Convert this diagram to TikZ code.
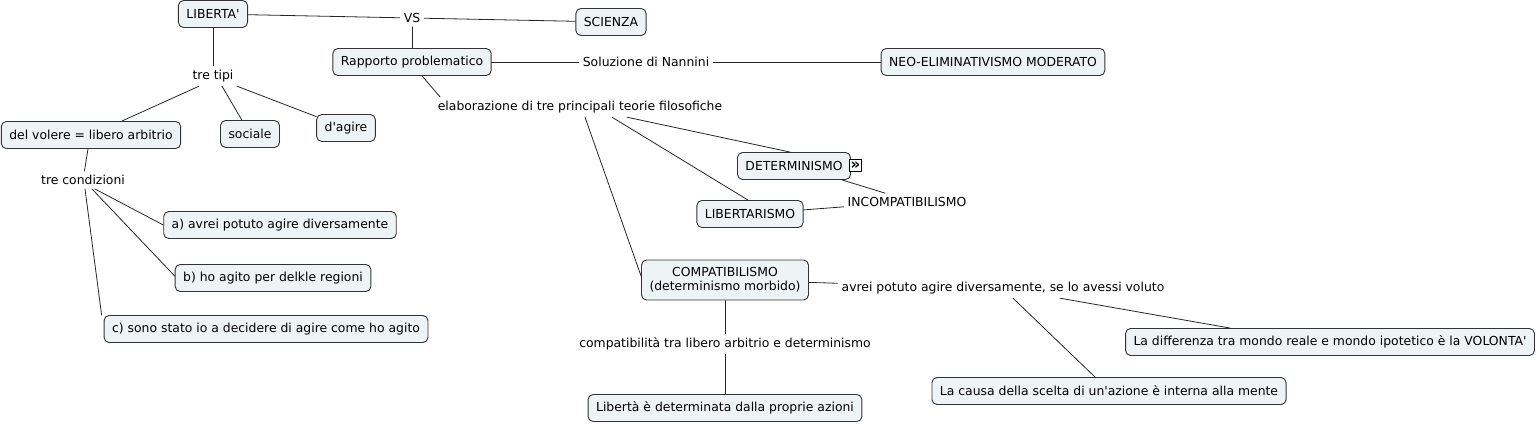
\documentclass[tikz,border=0pt]{standalone}
\usepackage{fontspec}
\setmainfont{DejaVu Sans}[Ligatures=TeXOff]
\usepackage{xcolor}
\usetikzlibrary{arrows.meta}
\definecolor{cmapfill}{HTML}{EEF3F5}
\newcommand{\cmapfont}{\fontsize{12.4}{14}\selectfont}
\tikzset{
  every picture/.style={line join=round, line cap=round},
  concept/.style={draw=black!80, fill=cmapfill, rounded corners=5pt, inner xsep=8pt, minimum height=27pt, line width=0.9pt, font=\cmapfont, align=center},
  phrase/.style={inner sep=4pt, font=\cmapfont},
  link/.style={line width=0.8pt, draw=black!85},
}

\begin{document}
\begin{tikzpicture}[x=1pt,y=-1pt]
\useasboundingbox (0,0) rectangle (1538,425);
% top row
\node[concept](liberta) at (213,14) {LIBERTA'};
\node[phrase](vs) at (412,18) {VS};
\node[concept](scienza) at (611,22) {SCIENZA};
\node[concept](rapporto) at (412,62) {Rapporto problematico};
\node[phrase](nannini) at (646,62) {Soluzione di Nannini};
\node[concept](neo) at (993,62) {NEO-ELIMINATIVISMO MODERATO};
% tipi di liberta
\node[phrase](tipi) at (213,76) {tre tipi};
\node[concept](volere) at (91,135) {del volere = libero arbitrio};
\node[concept](sociale) at (250,134) {sociale};
\node[concept](agire) at (346,128) {d'agire};
\node[phrase](condizioni) at (83,180) {tre condizioni};
\node[concept](conda) at (280,225) {a) avrei potuto agire diversamente};
\node[concept](condb) at (273,278) {b) ho agito per delkle regioni};
\node[concept](condc) at (266,329) {c) sono stato io a decidere di agire come ho agito};
% teorie
\node[phrase](elab) at (580,107) {elaborazione di tre principali teorie filosofiche};
\node[concept](determ) at (794,166) {DETERMINISMO};
\node[draw, fill=white, inner sep=0pt, minimum size=12pt, font=\fontsize{15}{15}\selectfont\bfseries](detIcon) at (855.5,165.5) {»};
\node[concept](libert) at (750,214) {LIBERTARISMO};
\node[phrase](incomp) at (907,202) {INCOMPATIBILISMO};
\node[concept, minimum height=40pt, inner ysep=3pt](compat) at (725,280) {COMPATIBILISMO\\(determinismo morbido)};
\node[phrase](avrei) at (1003,288) {avrei potuto agire diversamente, se lo avessi voluto};
\node[phrase](compatib) at (725,344) {compatibilità tra libero arbitrio e determinismo};
\node[concept](azioni) at (725,408) {Libertà è determinata dalla proprie azioni};
\node[concept](differenza) at (1330,342) {La differenza tra mondo reale e mondo ipotetico è la VOLONTA'};
\node[concept](causa) at (1109,391) {La causa della scelta di un'azione è interna alla mente};
% connectors
\draw[link](liberta)--(vs)--(scienza);
\draw[link](vs)--(rapporto);
\draw[link](liberta)--(tipi);
\draw[link]([xshift=-14pt]tipi.south)--(volere);
\draw[link]([xshift=9pt]tipi.south)--(sociale);
\draw[link]([xshift=24pt]tipi.south)--(agire);
\draw[link]([xshift=-3pt]volere.south)--(condizioni);
\draw[link]([xshift=12pt]condizioni.south)--(conda.west);
\draw[link]([xshift=9pt]condizioni.south)--([yshift=2pt]condb.west);
\draw[link]([xshift=2pt]condizioni.south)--([xshift=-2pt]condc.north west);
\draw[link](rapporto)--(nannini)--(neo);
\draw[link]([xshift=10pt]rapporto.south)--([xshift=-140pt]elab.north);
\draw[link]([xshift=47pt]elab.south)--([xshift=-4pt]determ.north);
\draw[link]([xshift=32pt]elab.south)--([xshift=-2pt]libert.north);
\draw[link]([xshift=5pt]elab.south)--([yshift=4pt]compat.west);
\draw[link]([xshift=48pt]determ.south)--([xshift=-22pt]incomp.north);
\draw[link](libert)--(incomp);
\draw[link](compat)--(avrei);
\draw[link]([xshift=10pt]avrei.south)--([xshift=-14pt]causa.north);
\draw[link]([xshift=57pt]avrei.south)--([xshift=-100pt]differenza.north);
\draw[link](compat)--(compatib)--(azioni);
\end{tikzpicture}
\end{document}
